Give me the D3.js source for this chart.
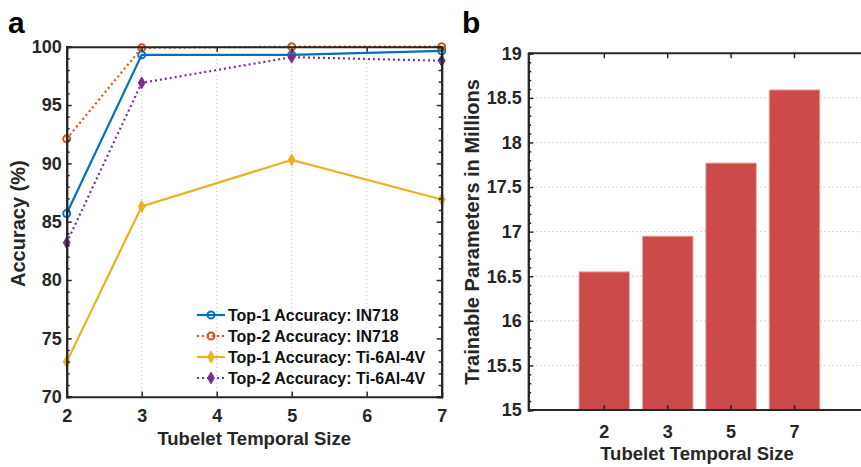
<!DOCTYPE html>
<html>
<head>
<meta charset="utf-8">
<script src="https://cdn.jsdelivr.net/npm/d3@7"></script>
<style>
  body { margin: 0; background: #fff; }
  svg { font-family: Arial, "Liberation Sans", sans-serif; font-weight: bold; }
  .tick text { font-size: 18px; font-weight: bold; fill: #262626; font-family: Arial, "Liberation Sans", sans-serif; }
  .axis-title { font-size: 18.5px; font-weight: bold; fill: #262626; }
  .axis-title.v { font-size: 20px; }
  .panel { font-size: 30px; font-weight: bold; }
</style>
</head>
<body>
<svg id="fig" width="861" height="467"></svg>
<script>
// ---- data ----
const sizes = [2, 3, 5, 7];
const top1IN718 = [85.7, 99.3, 99.3, 99.65];
const top2IN718 = [92.1, 99.9, 100, 100];
const top1Ti = [73.0, 86.3, 90.3, 86.9];
const top2Ti = [83.2, 96.9, 99.1, 98.8];
const seriesNames = ['Top-1 Accuracy: IN718', 'Top-2 Accuracy: IN718', 'Top-1 Accuracy: Ti-6Al-4V', 'Top-2 Accuracy: Ti-6Al-4V'];
const params = [16.55, 16.95, 17.77, 18.59];
const accTicks = [70, 75, 80, 85, 90, 95, 100];
const paramTicks = [15, 15.5, 16, 16.5, 17, 17.5, 18, 18.5, 19];

const svg = d3.select('#fig');
const axisColor = '#262626';

// ---------- panel a ----------
const a = { left: 66.7, right: 441.7, top: 46.7, bottom: 396.7 };
const xA = d3.scaleLinear().domain([2, 7]).range([a.left, a.right]);
const yA = d3.scaleLinear().domain([70, 100]).range([a.bottom, a.top]);

const gA = svg.append('g');

// vertical dotted grid
gA.append('g').selectAll('line')
  .data([3, 4, 5, 6])
  .join('line')
    .attr('x1', d => xA(d)).attr('x2', d => xA(d))
    .attr('y1', a.top).attr('y2', a.bottom)
    .attr('stroke', '#c8c8c8').attr('stroke-width', 1)
    .attr('stroke-dasharray', '1.5,2.5');

const series = [
  { vals: top1IN718, color: '#0072BD', dash: null, marker: 'circle' },
  { vals: top2IN718, color: '#D95319', dash: '2,3', marker: 'circle' },
  { vals: top1Ti, color: '#EDB120', dash: null, marker: 'diamond' },
  { vals: top2Ti, color: '#7E2F8E', dash: '2,3', marker: 'diamond' }
];

const line = d3.line().x(d => xA(d[0])).y(d => yA(d[1]));

function drawMarker(g, type, color, x, y) {
  if (type === 'circle') {
    g.append('circle').attr('cx', x).attr('cy', y).attr('r', 3.5)
      .attr('fill', 'none').attr('stroke', color).attr('stroke-width', 2);
  } else {
    g.append('path')
      .attr('d', d3.symbol(d3.symbolDiamond, 40)())
      .attr('transform', `translate(${x},${y})`)
      .attr('fill', color).attr('stroke', color).attr('stroke-width', 1);
  }
}

series.forEach(s => {
  const pts = sizes.map((x, i) => [x, s.vals[i]]);
  gA.append('path')
    .attr('d', line(pts))
    .attr('fill', 'none')
    .attr('stroke', s.color)
    .attr('stroke-width', 2.2)
    .attr('stroke-dasharray', s.dash);
  pts.forEach(p => drawMarker(gA, s.marker, s.color, xA(p[0]), yA(p[1])));
});

// axes (ticks inward)
const xAxisA = d3.axisBottom(xA).tickValues([2, 3, 4, 5, 6, 7]).tickSize(-5).tickPadding(13).tickFormat(d3.format('d'));
const yAxisA = d3.axisLeft(yA).tickValues(accTicks).tickSize(-5).tickPadding(5);
gA.append('g').attr('transform', `translate(0,${a.bottom})`).call(xAxisA);
gA.append('g').attr('transform', `translate(${a.left},0)`).call(yAxisA);
// top & right box with ticks
gA.append('g').attr('transform', `translate(0,${a.top})`)
  .call(d3.axisTop(xA).tickValues([3, 4, 5, 6]).tickSize(-5).tickFormat(''));
gA.append('g').attr('transform', `translate(${a.right},0)`)
  .call(d3.axisRight(yA).tickValues(accTicks).tickSize(-5).tickFormat(''));
// minor ticks
const minorA = d3.range(70, 101).filter(v => v % 5 !== 0);
gA.append('g').attr('transform', `translate(${a.left},0)`)
  .call(d3.axisLeft(yA).tickValues(minorA).tickSize(-3).tickFormat(''));
gA.append('g').attr('transform', `translate(${a.right},0)`)
  .call(d3.axisRight(yA).tickValues(minorA).tickSize(-3).tickFormat(''));

gA.selectAll('.domain, .tick line').attr('stroke', axisColor).attr('stroke-width', 2);
gA.selectAll('.tick line').attr('stroke-width', 1.5);

gA.append('text').attr('class', 'axis-title')
  .attr('x', (a.left + a.right) / 2).attr('y', 445)
  .attr('text-anchor', 'middle').text('Tubelet Temporal Size');
gA.append('text').attr('class', 'axis-title v')
  .attr('transform', 'rotate(-90)')
  .attr('x', -(a.top + a.bottom) / 2 - 2).attr('y', 25)
  .attr('text-anchor', 'middle').text('Accuracy (%)');

// legend
const legend = gA.append('g').attr('transform', 'translate(197,315)');
series.forEach((s, i) => {
  const row = legend.append('g').attr('transform', `translate(0,${i * 21})`);
  row.append('line').attr('x1', 0).attr('x2', 28).attr('y1', 0).attr('y2', 0)
    .attr('stroke', s.color).attr('stroke-width', 2.2).attr('stroke-dasharray', s.dash);
  drawMarker(row, s.marker, s.color, 14, 0);
  row.append('text').attr('x', 31).attr('y', 6)
    .style('font-size', '16px').attr('fill', '#111').text(seriesNames[i]);
});

svg.append('text').attr('class', 'panel').attr('x', 8).attr('y', 33).text('a');

// ---------- panel b ----------
const b = { left: 528.3, right: 870, top: 53.3, bottom: 410 };
const xB = d3.scaleBand().domain(sizes)
  .range([b.left + 76 - 31.7, b.left + 76 + 3 * 63.4 + 31.7])
  .paddingInner(0.2).paddingOuter(0.1);
const yB = d3.scaleLinear().domain([15, 19]).range([b.bottom, b.top]);
const gB = svg.append('g');

// horizontal dotted grid
gB.append('g').selectAll('line')
  .data(paramTicks.slice(1, -1))
  .join('line')
    .attr('class', 'grid')
    .attr('x1', b.left).attr('x2', b.right)
    .attr('y1', d => yB(d)).attr('y2', d => yB(d))
    .attr('stroke', '#c8c8c8').attr('stroke-width', 1)
    .attr('stroke-dasharray', '1.5,2.5');

gB.append('g').selectAll('rect')
  .data(sizes.map((s, i) => ({ s, v: params[i] })))
  .join('rect')
    .attr('x', d => xB(d.s))
    .attr('width', xB.bandwidth())
    .attr('y', d => yB(d.v))
    .attr('height', d => yB(15) - yB(d.v))
    .attr('fill', '#CD4A4A')
    .attr('stroke', '#ecb8b8').attr('stroke-width', 1);

const xAxisB = d3.axisBottom(xB).tickSize(-5).tickPadding(15);
const xBG = gB.append('g').attr('transform', `translate(0,${b.bottom})`).call(xAxisB);
xBG.select('.domain').remove();
gB.append('line').attr('class', 'frame').attr('x1', b.left).attr('x2', b.right).attr('y1', b.bottom).attr('y2', b.bottom);
gB.append('line').attr('class', 'frame').attr('x1', b.left).attr('x2', b.right).attr('y1', b.top).attr('y2', b.top);
const xTopB = gB.append('g').attr('transform', `translate(0,${b.top})`)
  .call(d3.axisTop(xB).tickSize(-5).tickFormat(''));
xTopB.select('.domain').remove();
gB.append('g').attr('transform', `translate(${b.left},0)`)
  .call(d3.axisLeft(yB).tickValues(paramTicks).tickSize(-5).tickPadding(6.5).tickFormat(d3.format('')));
const minorB = d3.range(151, 190).filter(v => v % 5 !== 0).map(v => v / 10);
gB.append('g').attr('transform', `translate(${b.left},0)`)
  .call(d3.axisLeft(yB).tickValues(minorB).tickSize(-3).tickFormat(''));

gB.selectAll('.domain, .tick line, .frame').attr('stroke', axisColor).attr('stroke-width', 2);
gB.selectAll('.tick line').attr('stroke-width', 1.5);

gB.append('text').attr('class', 'axis-title')
  .attr('x', 697).attr('y', 460)
  .attr('text-anchor', 'middle').text('Tubelet Temporal Size');
gB.append('text').attr('class', 'axis-title v')
  .attr('transform', 'rotate(-90)')
  .attr('x', -232).attr('y', 479)
  .attr('text-anchor', 'middle').text('Trainable Parameters in Millions');

svg.append('text').attr('class', 'panel').attr('x', 462).attr('y', 33).text('b');
</script>
</body>
</html>
